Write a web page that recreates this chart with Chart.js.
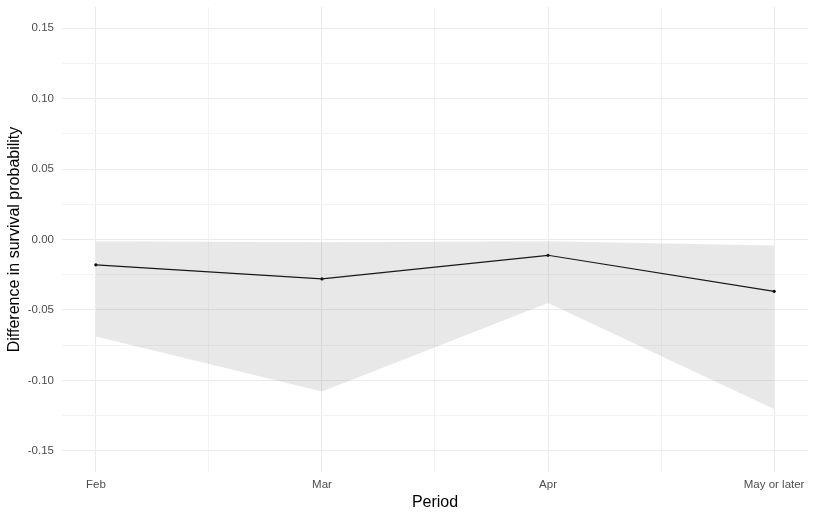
<!DOCTYPE html>
<html>
<head>
<meta charset="utf-8">
<script src="https://cdn.jsdelivr.net/npm/chart.js@4"></script>
<style>
  html, body { margin: 0; padding: 0; background: #fff; }
  #wrap { width: 816px; height: 518px; }
</style>
</head>
<body>
<div id="wrap"><canvas id="myChart" width="816" height="518"></canvas></div>
<script>
// data
var periods = ["Feb", "Mar", "Apr", "May or later"];
var estimate = [-0.018, -0.028, -0.0112, -0.0368];
var upper = [-0.0012, -0.0019, -0.0012, -0.0043];
var lower = [-0.0688, -0.1079, -0.045, -0.1204];
var yTicks = [-0.15, -0.125, -0.1, -0.075, -0.05, -0.025, 0, 0.025, 0.05, 0.075, 0.1, 0.125, 0.15];
var xTicks = [1, 1.5, 2, 2.5, 3, 3.5, 4];

function pts(arr) {
  return arr.map(function (v, i) { return { x: i + 1, y: v }; });
}
function isMajorY(v) { return Math.abs(v * 20 - Math.round(v * 20)) < 1e-6; }
function isMajorX(v) { return Math.abs(v - Math.round(v)) < 1e-6; }

var font = "'Liberation Sans', Arial, sans-serif";
var ctx = document.getElementById("myChart").getContext("2d");
// eslint-disable-next-line no-undef
var myChart = new Chart(ctx, {
  type: "line",
  data: {
    datasets: [
      {
        label: "upper",
        data: pts(upper),
        borderWidth: 0,
        pointRadius: 0,
        backgroundColor: "rgba(128, 128, 128, 0.18)",
        fill: "+1",
      },
      {
        label: "lower",
        data: pts(lower),
        borderWidth: 0,
        pointRadius: 0,
        fill: false,
      },
      {
        label: "estimate",
        data: pts(estimate),
        borderColor: "#000",
        backgroundColor: "#000",
        borderWidth: 1.2,
        pointRadius: 1.6,
        pointBorderWidth: 0,
        fill: false,
      },
    ],
  },
  options: {
    responsive: false,
    animation: false,
    layout: { padding: { top: 7, right: 8, left: 0, bottom: 0 } },
    plugins: { legend: { display: false }, tooltip: { enabled: false } },
    scales: {
      x: {
        type: "linear",
        min: 0.85,
        max: 4.15,
        afterBuildTicks: function (scale) {
          scale.ticks = xTicks.map(function (v) { return { value: v }; });
        },
        afterFit: function (scale) {
          scale.height = 46;
          scale.paddingLeft = 0;
          scale.paddingRight = 0;
        },
        border: { display: false },
        grid: {
          drawTicks: false,
          color: function (c) { return isMajorX(c.tick.value) ? "#EBEBEB" : "#F3F3F3"; },
          lineWidth: 1,
        },
        ticks: {
          autoSkip: false,
          maxRotation: 0,
          padding: 6,
          color: "#4D4D4D",
          font: { family: font, size: 11.5 },
          callback: function (v) { return isMajorX(v) ? periods[Math.round(v) - 1] : ""; },
        },
        title: {
          display: true,
          text: "Period",
          color: "#000",
          font: { family: font, size: 16 },
          padding: { top: 0, bottom: 6 },
        },
      },
      y: {
        type: "linear",
        min: -0.165,
        max: 0.165,
        afterBuildTicks: function (scale) {
          scale.ticks = yTicks.map(function (v) { return { value: v }; });
        },
        afterFit: function (scale) {
          scale.width = 62;
          scale.paddingTop = 0;
          scale.paddingBottom = 0;
        },
        border: { display: false },
        grid: {
          drawTicks: false,
          color: function (c) { return isMajorY(c.tick.value) ? "#EBEBEB" : "#F3F3F3"; },
          lineWidth: 1,
        },
        ticks: {
          autoSkip: false,
          padding: 8,
          color: "#4D4D4D",
          font: { family: font, size: 11.5 },
          callback: function (v) { return isMajorY(v) ? v.toFixed(2) : ""; },
        },
        title: {
          display: true,
          text: "Difference in survival probability",
          color: "#000",
          font: { family: font, size: 16 },
          padding: { top: 5, bottom: 0 },
        },
      },
    },
  },
});
</script>
</body>
</html>
